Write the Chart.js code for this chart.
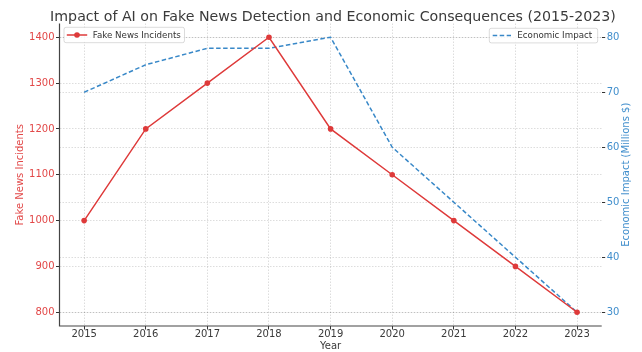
<!DOCTYPE html>
<html>
<head>
<meta charset="utf-8">
<script src="https://cdn.jsdelivr.net/npm/chart.js@4/dist/chart.umd.min.js"></script>
<style>
  html, body { margin: 0; padding: 0; background: #ffffff; }
  canvas { display: block; }
</style>
</head>
<body>
<canvas id="chart" width="642" height="352"></canvas>
<script>
// Yearly figures
const years = [2015, 2016, 2017, 2018, 2019, 2020, 2021, 2022, 2023];
const fakeNewsIncidents = [1000, 1200, 1300, 1400, 1200, 1100, 1000, 900, 800];
const economicImpact = [70, 75, 78, 78, 80, 60, 50, 40, 30];

// Tick labels
const incidentTicks = [800, 900, 1000, 1100, 1200, 1300, 1400];
const impactTicks = [30, 40, 50, 60, 70, 80];

const RED = 'rgb(222, 58, 58)';
const RED_TEXT = 'rgb(226, 72, 72)';
const BLUE = 'rgb(56, 136, 200)';
const BLUE_TEXT = 'rgb(64, 142, 204)';
const GRID = 'rgba(0, 0, 0, 0.17)';
const FONT = 'DejaVu Sans';

const pad = (lo, hi) => (hi - lo) * 0.05;

const gridOpts = {
  color: GRID,
  lineWidth: 0.8,
  tickColor: '#333333',
  tickWidth: 1,
  tickLength: 3.5,
  tickBorderDash: []
};

// Title, right-hand axis label, spines and the two legends
const decorations = {
  id: 'decorations',
  afterDraw(chart) {
    const ctx = chart.ctx;
    const a = chart.chartArea;
    ctx.save();

    // spines
    ctx.strokeStyle = '#444444';
    ctx.lineWidth = 1.2;
    ctx.beginPath();
    ctx.moveTo(a.left, a.top);
    ctx.lineTo(a.left, a.bottom);
    ctx.lineTo(a.right, a.bottom);
    ctx.stroke();

    // title
    ctx.fillStyle = '#3a3a3a';
    ctx.font = `14.2px "${FONT}"`;
    ctx.textAlign = 'center';
    ctx.textBaseline = 'alphabetic';
    ctx.fillText('Impact of AI on Fake News Detection and Economic Consequences (2015-2023)', 333, 20.7);

    // right axis label, reading bottom to top
    ctx.save();
    ctx.translate(626, (a.top + a.bottom) / 2);
    ctx.rotate(-Math.PI / 2);
    ctx.fillStyle = BLUE_TEXT;
    ctx.font = `10px "${FONT}"`;
    ctx.textAlign = 'center';
    ctx.textBaseline = 'middle';
    ctx.fillText('Economic Impact (Millions $)', 0, 0);
    ctx.restore();

    const box = (x, y, w, h) => {
      ctx.beginPath();
      ctx.roundRect(x, y, w, h, 2);
      ctx.fillStyle = 'rgba(255,255,255,0.85)';
      ctx.fill();
      ctx.strokeStyle = 'rgba(0,0,0,0.18)';
      ctx.lineWidth = 0.8;
      ctx.stroke();
    };

    ctx.font = `8.7px "${FONT}"`;
    ctx.textAlign = 'left';
    ctx.textBaseline = 'middle';

    // left legend
    box(64, 27.3, 120.5, 15.4);
    ctx.strokeStyle = RED;
    ctx.lineWidth = 1.5;
    ctx.setLineDash([]);
    ctx.beginPath();
    ctx.moveTo(66.8, 35);
    ctx.lineTo(87.2, 35);
    ctx.stroke();
    ctx.fillStyle = RED;
    ctx.beginPath();
    ctx.arc(77, 35, 2.8, 0, Math.PI * 2);
    ctx.fill();
    ctx.fillStyle = '#333333';
    ctx.fillText('Fake News Incidents', 92.7, 35.3);

    // right legend
    box(489.3, 28.3, 108.4, 14.6);
    ctx.strokeStyle = BLUE;
    ctx.lineWidth = 1.5;
    ctx.setLineDash([4.5, 2.5]);
    ctx.beginPath();
    ctx.moveTo(492.7, 35.6);
    ctx.lineTo(511, 35.6);
    ctx.stroke();
    ctx.setLineDash([]);
    ctx.fillStyle = '#333333';
    ctx.fillText('Economic Impact', 517.3, 35.9);

    ctx.restore();
  }
};

new Chart(document.getElementById('chart'), {
  type: 'line',
  data: {
    datasets: [
      {
        label: 'Fake News Incidents',
        data: years.map((yr, i) => ({ x: yr, y: fakeNewsIncidents[i] })),
        yAxisID: 'y',
        borderColor: RED,
        backgroundColor: RED,
        borderWidth: 1.5,
        pointRadius: 2.8,
        pointBorderWidth: 0,
        pointBackgroundColor: RED,
        tension: 0
      },
      {
        label: 'Economic Impact',
        data: years.map((yr, i) => ({ x: yr, y: economicImpact[i] })),
        yAxisID: 'y1',
        borderColor: BLUE,
        backgroundColor: BLUE,
        borderWidth: 1.5,
        borderDash: [4.5, 2.5],
        pointRadius: 0,
        tension: 0
      }
    ]
  },
  options: {
    responsive: false,
    animation: false,
    devicePixelRatio: 1,
    layout: { padding: { top: 23.5, left: 0, right: 0, bottom: 0 } },
    plugins: {
      legend: { display: false },
      title: { display: false },
      tooltip: { enabled: false }
    },
    scales: {
      x: {
        type: 'linear',
        min: years[0] - pad(years[0], years[years.length - 1]),
        max: years[years.length - 1] + pad(years[0], years[years.length - 1]),
        afterBuildTicks: s => { s.ticks = years.map(v => ({ value: v })); },
        afterFit: s => { s.height = 26; },
        border: { display: false, dash: [1.5, 1.5] },
        grid: { ...gridOpts },
        ticks: {
          autoSkip: false,
          maxRotation: 0,
          padding: -1.5,
          color: '#3a3a3a',
          font: { family: FONT, size: 10 },
          callback: v => String(v)
        },
        title: {
          display: true,
          text: 'Year',
          color: '#3a3a3a',
          font: { family: FONT, size: 10 },
          padding: { top: 0, bottom: 0 }
        }
      },
      y: {
        type: 'linear',
        position: 'left',
        min: 800 - pad(800, 1400),
        max: 1400 + pad(800, 1400),
        afterBuildTicks: s => { s.ticks = incidentTicks.map(v => ({ value: v })); },
        afterFit: s => { s.width = 59.5; },
        border: { display: false, dash: [1.5, 1.5] },
        grid: { ...gridOpts },
        ticks: {
          padding: 1.5,
          color: RED_TEXT,
          font: { family: FONT, size: 10 },
          callback: v => String(v)
        },
        title: {
          display: true,
          text: 'Fake News Incidents',
          color: RED_TEXT,
          font: { family: FONT, size: 10 },
          padding: { top: 14, bottom: 0 }
        }
      },
      y1: {
        type: 'linear',
        position: 'right',
        min: 30 - pad(30, 80),
        max: 80 + pad(30, 80),
        afterBuildTicks: s => { s.ticks = impactTicks.map(v => ({ value: v })); },
        afterFit: s => { s.width = 40.3; },
        border: { display: false, dash: [1.5, 1.5] },
        grid: { ...gridOpts },
        ticks: {
          padding: 1.5,
          color: BLUE_TEXT,
          font: { family: FONT, size: 10 },
          callback: v => String(v)
        }
      }
    }
  },
  plugins: [decorations]
});
</script>
</body>
</html>
